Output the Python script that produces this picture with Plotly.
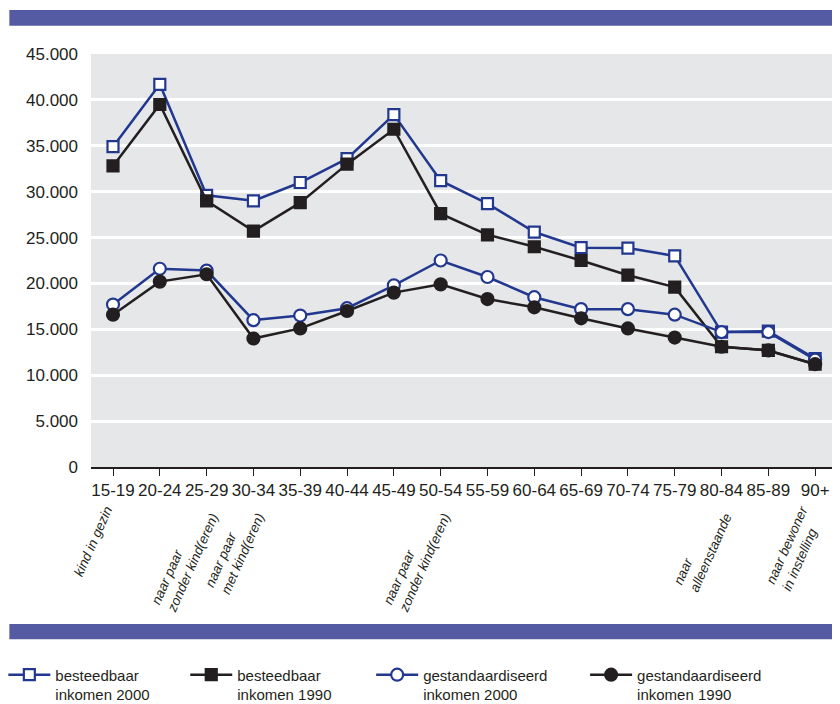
import plotly.graph_objects as go

# leeftijdsklassen en reeksen (euro per jaar)
leeftijd = ['15-19', '20-24', '25-29', '30-34', '35-39', '40-44', '45-49', '50-54',
            '55-59', '60-64', '65-69', '70-74', '75-79', '80-84', '85-89', '90+']

besteedbaar_2000 = [34900, 41700, 29600, 29000, 31000, 33600, 38400, 31200,
                    28700, 25600, 23900, 23850, 23000, 14700, 14800, 11800]
besteedbaar_1990 = [32800, 39500, 29000, 25700, 28800, 33000, 36800, 27600,
                    25300, 24000, 22500, 20900, 19600, 13100, 12700, 11200]
gestand_2000 = [17700, 21600, 21400, 16000, 16500, 17300, 19800, 22500,
                20700, 18500, 17200, 17200, 16600, 14700, 14700, 11700]
gestand_1990 = [16600, 20200, 21000, 14000, 15100, 17000, 19000, 19900,
                18300, 17400, 16200, 15100, 14100, 13100, 12700, 11200]

# overgangen in de huishoudenspositie
overgang_cat = ['15-19', '25-29', '30-34', '50-54', '80-84', '90+']
overgang_tekst = ['kind in gezin', 'naar paar<br>zonder kind(eren)', 'naar paar<br>met kind(eren)',
                  'naar paar<br>zonder kind(eren)', 'naar<br>alleenstaande', 'naar bewoner<br>in instelling']

BLUE = '#22388f'
BLACK = '#231f20'
BAND = '#545ba3'
FONT = 'Liberation Sans'

fig = go.Figure()

series = [
    ('besteedbaar<br>inkomen 2000', besteedbaar_2000, BLUE, 'square', 'white', 'legend'),
    ('besteedbaar<br>inkomen 1990', besteedbaar_1990, BLACK, 'square', BLACK, 'legend2'),
    ('gestandaardiseerd<br>inkomen 2000', gestand_2000, BLUE, 'circle', 'white', 'legend3'),
    ('gestandaardiseerd<br>inkomen 1990', gestand_1990, BLACK, 'circle', BLACK, 'legend4'),
]
for name, vals, col, sym, fill, leg in series:
    fig.add_trace(go.Scatter(
        x=leeftijd, y=vals, name=name, mode='lines+markers',
        line=dict(color=col, width=2.5),
        marker=dict(symbol=sym, size=11 if sym == 'square' else 12, color=fill,
                    line=dict(color=col, width=2.2)),
        legend=leg, showlegend=True,
    ))

# rotated transition labels under the axis
shifts = [5, 18, 17, 16, 16, 15]
for cat, txt, sh in zip(overgang_cat, overgang_tekst, shifts):
    fig.add_annotation(
        x=cat, xref='x', y=-0.084, yref='paper', text=txt, showarrow=False,
        textangle=-66, xanchor='right', yanchor='top', align='left', xshift=sh,
        font=dict(family=FONT, size=13.5, color=BLACK, style='italic'),
    )

# purple bands top and bottom
fig.add_shape(type='rect', xref='paper', yref='paper', x0=-0.1102, x1=1.02,
              y0=1.0685, y1=1.1065, fillcolor=BAND, line_width=0, layer='above')
fig.add_shape(type='rect', xref='paper', yref='paper', x0=-0.1102, x1=1.02,
              y0=-0.4172, y1=-0.380, fillcolor=BAND, line_width=0, layer='above')

legend_style = dict(orientation='h', yanchor='top', y=-0.4635, xanchor='left',
                    bgcolor='rgba(0,0,0,0)', valign='top', borderwidth=0, itemwidth=42,
                    font=dict(family=FONT, size=15, color=BLACK))
fig.update_layout(
    width=824, height=704,
    margin=dict(l=83, r=0, t=46, b=245, autoexpand=False),
    paper_bgcolor='white', plot_bgcolor='#e6e7e9',
    separators=',.',
    showlegend=True,
    font=dict(family=FONT, color=BLACK),
    legend=dict(legend_style, x=-0.1183),
    legend2=dict(legend_style, x=0.1272),
    legend3=dict(legend_style, x=0.3781),
    legend4=dict(legend_style, x=0.6668),
    xaxis=dict(
        type='category', range=[-0.47, 15.36],
        showgrid=False, showline=True, linecolor=BLACK, linewidth=1.5,
        ticks='outside', ticklen=7, tickcolor=BLACK, tickwidth=1.2,
        tickfont=dict(family=FONT, size=17, color=BLACK),
    ),
    yaxis=dict(
        range=[0, 45000], dtick=5000, tickformat=',d',
        showgrid=True, gridcolor='white', gridwidth=2.5, zeroline=False,
        showline=False, ticks='', ticklabelstandoff=12,
        tickfont=dict(family=FONT, size=17, color=BLACK),
    ),
)

fig.write_html("out.html")
